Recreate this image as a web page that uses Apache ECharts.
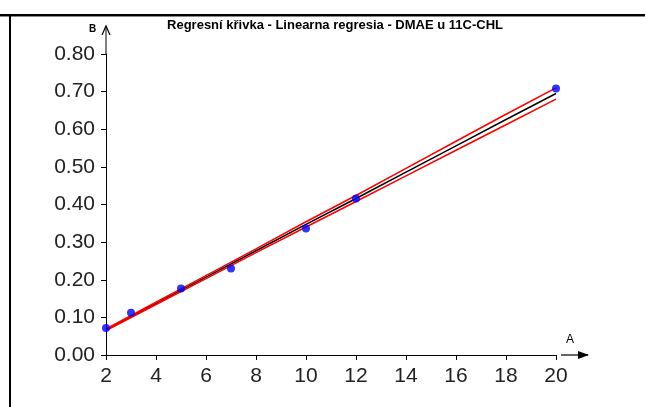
<!DOCTYPE html>
<html>
<head>
<meta charset="utf-8">
<script src="https://cdn.jsdelivr.net/npm/echarts@6/dist/echarts.min.js"></script>
<style>
    html, body { margin: 0; padding: 0; background: #fff; }
    #chart { width: 645px; height: 407px; }
</style>
</head>
<body>
<div id="chart"></div>
<script>
'use strict';

// measured points (A, B)
var pointsA = [2, 3, 5, 7, 10, 12, 20];
var pointsB = [0.072, 0.112, 0.177, 0.230, 0.336, 0.416, 0.708];

// regression line and its bands
var lineA = [2, 4, 6, 8, 10, 12, 14, 16, 18, 20];
var lineMid = [0.067, 0.137, 0.207, 0.277, 0.347, 0.416, 0.486, 0.556, 0.626, 0.695];
var lineUpper = [0.069, 0.140, 0.211, 0.282, 0.354, 0.424, 0.496, 0.568, 0.640, 0.710];
var lineLower = [0.065, 0.134, 0.203, 0.272, 0.340, 0.408, 0.476, 0.544, 0.612, 0.680];

var xTicks = [2, 20, 2];      // min, max, interval
var yTicks = [0, 0.8, 0.1];

var titleText = 'Regresní křivka - Linearna regresia - DMAE u 11C-CHL';

function pairs(xs, ys) {
    var out = [];
    for (var i = 0; i < xs.length; i++) {
        out.push([xs[i], ys[i]]);
    }
    return out;
}

var labelFont = '"Liberation Sans", Arial, sans-serif';

var myChart = echarts.init(document.getElementById('chart'), null, {renderer: 'canvas'});

var option = {
    animation: false,
    backgroundColor: '#fff',
    title: {
        text: titleText,
        left: 330,
        textAlign: 'center',
        top: 14,
        textStyle: {fontFamily: labelFont, fontSize: 13, fontWeight: 'bold', color: '#000'}
    },
    grid: {left: 106, right: 89, top: 54, bottom: 52, containLabel: false},
    xAxis: {
        type: 'value',
        min: xTicks[0], max: xTicks[1], interval: xTicks[2],
        splitLine: {show: false},
        axisLine: {onZero: false, lineStyle: {color: '#000', width: 1}},
        axisTick: {show: true, length: 5, lineStyle: {color: '#000'}},
        axisLabel: {fontFamily: labelFont, fontSize: 21, color: '#222', margin: 11}
    },
    yAxis: {
        type: 'value',
        min: yTicks[0], max: yTicks[1], interval: yTicks[2],
        splitLine: {show: false},
        axisLine: {show: true, onZero: false, lineStyle: {color: '#000', width: 1}},
        axisTick: {show: true, length: 5, lineStyle: {color: '#000'}},
        axisLabel: {
            fontFamily: labelFont, fontSize: 21, color: '#222', margin: 11,
            formatter: function (v) { return v.toFixed(2); }
        }
    },
    series: [
        {
            type: 'line', data: pairs(lineA, lineMid), symbol: 'none',
            lineStyle: {color: '#000', width: 1.5}, z: 2
        },
        {
            type: 'line', data: pairs(lineA, lineUpper), symbol: 'none',
            lineStyle: {color: '#ff0000', width: 1.6}, z: 3
        },
        {
            type: 'line', data: pairs(lineA, lineLower), symbol: 'none',
            lineStyle: {color: '#ff0000', width: 1.6}, z: 3
        },
        {
            type: 'scatter', data: pairs(pointsA, pointsB), symbol: 'circle', symbolSize: 8,
            itemStyle: {color: '#0000ff'}, z: 5
        }
    ]
};

myChart.setOption(option);

// axis arrows, window frame and axis names
var yEnd = myChart.convertToPixel({gridIndex: 0}, [xTicks[0], yTicks[1]]);
var xEnd = myChart.convertToPixel({gridIndex: 0}, [xTicks[1], yTicks[0]]);

myChart.setOption({
    graphic: [
        {type: 'line', shape: {x1: 0, y1: 15, x2: 645, y2: 15}, style: {stroke: '#000', lineWidth: 2}},
        {type: 'line', shape: {x1: 0, y1: 16.5, x2: 645, y2: 16.5}, style: {stroke: '#888', lineWidth: 1}},
        {type: 'line', shape: {x1: 10, y1: 15, x2: 10, y2: 407}, style: {stroke: '#000', lineWidth: 2}},
        // y arrow
        {type: 'line', shape: {x1: yEnd[0], y1: yEnd[1], x2: yEnd[0], y2: yEnd[1] - 28}, style: {stroke: '#000', lineWidth: 1}},
        {type: 'polyline', shape: {points: [[yEnd[0] - 4, yEnd[1] - 19], [yEnd[0], yEnd[1] - 28], [yEnd[0] + 4, yEnd[1] - 19]]}, style: {stroke: '#000', lineWidth: 1.2, fill: null}},
        {type: 'text', x: yEnd[0] - 17, y: yEnd[1] - 30, style: {text: 'B', font: 'bold 10px ' + labelFont, fill: '#000'}},
        // x arrow
        {type: 'line', shape: {x1: xEnd[0] + 5, y1: xEnd[1], x2: xEnd[0] + 32, y2: xEnd[1]}, style: {stroke: '#000', lineWidth: 1.2}},
        {type: 'polygon', shape: {points: [[xEnd[0] + 22, xEnd[1] - 4], [xEnd[0] + 33, xEnd[1]], [xEnd[0] + 22, xEnd[1] + 4]]}, style: {fill: '#000'}},
        {type: 'text', x: xEnd[0] + 10, y: xEnd[1] - 21, style: {text: 'A', font: '12px ' + labelFont, fill: '#000'}}
    ]
});
</script>
</body>
</html>
